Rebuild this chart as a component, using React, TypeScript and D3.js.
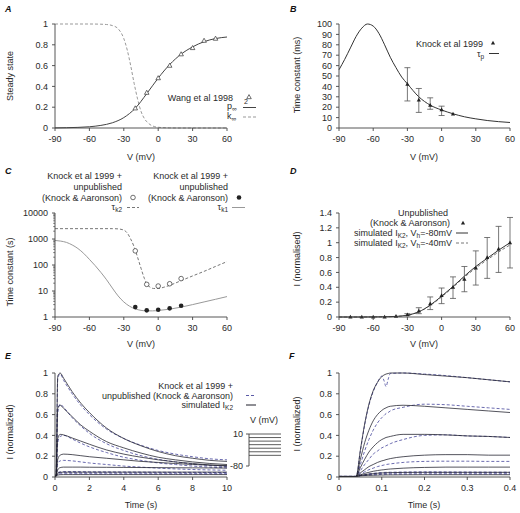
import React from "react";
import * as d3 from "d3";

const FONT = "'Liberation Sans', Arial, Helvetica, sans-serif";
const TXT = "#2a2a2a";
const AX = "#444";
const FS = 9;

// ---------- Panel A ----------
const vA = [-90, -80, -70, -60, -50, -40, -30, -20, -10, 0, 10, 20, 30, 40, 50, 60];
const pInfSq = [0.001, 0.003, 0.006, 0.012, 0.025, 0.05, 0.1, 0.19, 0.33, 0.48, 0.61, 0.71, 0.78, 0.83, 0.86, 0.875];
const vKinf = [-90, -60, -50, -45, -40, -35, -30, -27, -24, -21, -18, -15, -12, -9, -6, -3, 0, 5, 10, 20, 60];
const kInf = [1, 1, 0.998, 0.995, 0.985, 0.955, 0.86, 0.75, 0.6, 0.43, 0.28, 0.16, 0.09, 0.05, 0.025, 0.013, 0.007, 0.003, 0.001, 0, 0];
const vWang = [-20, -10, 0, 10, 20, 30, 40, 50];
const wang = [0.19, 0.34, 0.48, 0.6, 0.71, 0.77, 0.84, 0.86];
const vTicks = [-90, -60, -30, 0, 30, 60];
const ssTicks = [0, 0.2, 0.4, 0.6, 0.8, 1];

// ---------- Panel B ----------
const vB = [-90, -85, -80, -75, -70, -65, -60, -55, -50, -45, -40, -35, -30, -20, -10, 0, 10, 20, 30, 40, 50, 60];
const tauP = [56, 66, 77, 88, 96, 100, 98, 91, 80, 68, 58, 49, 42.5, 30, 22, 17.3, 13.7, 10.8, 8.8, 7.2, 6.1, 5.3];
const vKnockB = [-30, -20, -10, 0, 10];
const knockB = [42, 27, 22, 17.5, 13.5];
const knockBLo = [26, 15, 18, 12, 13.5];
const knockBHi = [58, 38, 29, 21, 13.5];
const tauTicks = [0, 10, 20, 30, 40, 50, 60, 70, 80, 90, 100];

// ---------- Panel C ----------
const vK2 = [-90, -40, -35, -30, -27, -24, -21, -18, -15, -12, -10, -7, -4, 0, 5, 10, 20, 30, 40, 50, 60];
const tauK2 = [2500, 2500, 2450, 2200, 1700, 1000, 500, 200, 75, 30, 19, 14, 12.5, 12.5, 14, 16.5, 25, 38, 57, 88, 135];
const vK1 = [-90, -85, -80, -75, -70, -65, -60, -55, -50, -45, -40, -35, -30, -25, -20, -15, -10, -5, 0, 10, 20, 30, 40, 50, 60];
const tauK1 = [880, 830, 740, 590, 430, 280, 165, 95, 52, 27, 13, 6.5, 3.8, 2.6, 2.05, 1.8, 1.72, 1.72, 1.78, 2.0, 2.4, 3.0, 3.8, 4.8, 6.1];
const vKnockC = [-20, -10, 0, 10, 20];
const knockK2 = [350, 18, 15.5, 19, 30];
const knockK1 = [2.4, 1.8, 1.9, 2.15, 2.7];
const logTicks = [1, 10, 100, 1000, 10000];

// ---------- Panel D ----------
const vD = [-90, -80, -70, -60, -50, -40, -30, -20, -10, 0, 10, 20, 30, 40, 50, 60];
const simH80 = [0, 0, 0, 0.001, 0.003, 0.008, 0.025, 0.07, 0.16, 0.28, 0.41, 0.55, 0.68, 0.79, 0.9, 1.0];
const simH40 = [0, 0, 0, 0.001, 0.003, 0.008, 0.024, 0.068, 0.155, 0.27, 0.4, 0.535, 0.66, 0.77, 0.875, 0.97];
const vUnpub = [-80, -70, -60, -50, -40, -30, -20, -10, 0, 10, 20, 30, 40, 50, 60];
const unpub = [0.002, 0.002, 0.001, 0.001, 0.01, 0.03, 0.08, 0.18, 0.29, 0.4, 0.51, 0.66, 0.8, 0.915, 1.0];
const unpubLo = [0.002, 0.002, 0.001, 0.001, 0.01, 0.02, 0.045, 0.1, 0.18, 0.25, 0.34, 0.43, 0.52, 0.6, 0.66];
const unpubHi = [0.002, 0.002, 0.001, 0.001, 0.01, 0.045, 0.125, 0.27, 0.39, 0.54, 0.68, 0.89, 1.07, 1.22, 1.34];
const iTicksD = [0, 0.2, 0.4, 0.6, 0.8, 1, 1.2, 1.4];

// ---------- Panel E ----------
const tE = [0, 0.06, 0.16, 0.3, 0.5, 1, 1.5, 2, 3, 4, 5, 6, 7, 8, 9, 10];
const eS1 = [0.01, 0.01, 0.97, 1.0, 0.95, 0.82, 0.71, 0.62, 0.47, 0.37, 0.3, 0.245, 0.205, 0.18, 0.16, 0.15];
const eS2 = [0.01, 0.01, 0.66, 0.69, 0.66, 0.58, 0.5, 0.44, 0.34, 0.28, 0.23, 0.19, 0.165, 0.145, 0.13, 0.12];
const eS3 = [0.01, 0.01, 0.37, 0.41, 0.405, 0.375, 0.345, 0.315, 0.26, 0.22, 0.19, 0.165, 0.145, 0.13, 0.115, 0.105];
const eS4 = [0.01, 0.01, 0.17, 0.21, 0.22, 0.215, 0.205, 0.195, 0.18, 0.165, 0.15, 0.14, 0.13, 0.12, 0.115, 0.11];
const eS5 = [0.01, 0.01, 0.07, 0.09, 0.095, 0.095, 0.095, 0.094, 0.093, 0.092, 0.091, 0.09, 0.089, 0.088, 0.087, 0.086];
const eS6 = [0.01, 0.01, 0.035, 0.045, 0.047, 0.047, 0.047, 0.047, 0.047, 0.047, 0.047, 0.047, 0.047, 0.047, 0.047, 0.047];
const eS7 = [0.01, 0.01, 0.018, 0.022, 0.023, 0.023, 0.023, 0.023, 0.023, 0.023, 0.023, 0.023, 0.023, 0.023, 0.023, 0.023];
const eD1 = [0.01, 0.01, 0.95, 0.99, 0.93, 0.8, 0.69, 0.6, 0.46, 0.37, 0.305, 0.255, 0.22, 0.195, 0.175, 0.165];
const eD2 = [0.01, 0.01, 0.62, 0.7, 0.67, 0.57, 0.49, 0.42, 0.32, 0.255, 0.205, 0.17, 0.145, 0.125, 0.11, 0.1];
const eD3 = [0.01, 0.01, 0.33, 0.39, 0.4, 0.365, 0.325, 0.29, 0.235, 0.19, 0.16, 0.135, 0.12, 0.105, 0.095, 0.088];
const eD4 = [0.01, 0.01, 0.13, 0.155, 0.16, 0.155, 0.145, 0.135, 0.12, 0.105, 0.095, 0.085, 0.078, 0.072, 0.068, 0.065];
const eD5 = [0.01, 0.01, 0.04, 0.05, 0.052, 0.052, 0.051, 0.05, 0.049, 0.048, 0.047, 0.046, 0.045, 0.045, 0.044, 0.044];
const eD6 = [0.01, 0.01, 0.03, 0.04, 0.041, 0.041, 0.04, 0.04, 0.04, 0.039, 0.039, 0.038, 0.038, 0.037, 0.037, 0.037];
const eD7 = [0.01, 0.01, 0.025, 0.03, 0.031, 0.031, 0.031, 0.031, 0.03, 0.03, 0.03, 0.03, 0.03, 0.03, 0.03, 0.03];
const timeTicksE = [0, 2, 4, 6, 8, 10];
const iTicks = [0, 0.2, 0.4, 0.6, 0.8, 1];
const protoSteps = [10, 0, -10, -20, -30, -40, -50];

// ---------- Panel F ----------
const tF = [0, 0.04, 0.05, 0.06, 0.07, 0.08, 0.09, 0.1, 0.105, 0.11, 0.115, 0.12, 0.15, 0.2, 0.25, 0.3, 0.35, 0.4];
const fS1 = [0.005, 0.005, 0.26, 0.51, 0.7, 0.83, 0.91, 0.965, 0.98, 0.99, 0.995, 1.0, 1.0, 0.985, 0.97, 0.955, 0.935, 0.915];
const fD1 = [0.005, 0.005, 0.25, 0.5, 0.69, 0.82, 0.91, 0.97, 0.93, 0.87, 0.94, 0.995, 1.0, 0.99, 0.975, 0.955, 0.935, 0.915];
const fS2 = [0.005, 0.005, 0.17, 0.33, 0.45, 0.54, 0.6, 0.64, 0.655, 0.665, 0.675, 0.68, 0.69, 0.68, 0.665, 0.65, 0.635, 0.62];
const fD2 = [0.005, 0.005, 0.12, 0.25, 0.36, 0.45, 0.52, 0.57, 0.59, 0.61, 0.62, 0.635, 0.67, 0.7, 0.695, 0.68, 0.665, 0.65];
const fS3 = [0.005, 0.005, 0.09, 0.17, 0.24, 0.29, 0.33, 0.36, 0.37, 0.38, 0.385, 0.39, 0.41, 0.41, 0.405, 0.395, 0.39, 0.38];
const fD3 = [0.005, 0.005, 0.06, 0.12, 0.17, 0.22, 0.25, 0.28, 0.29, 0.3, 0.31, 0.32, 0.36, 0.4, 0.405, 0.395, 0.39, 0.38];
const fS4 = [0.005, 0.005, 0.04, 0.07, 0.1, 0.12, 0.14, 0.155, 0.16, 0.167, 0.172, 0.177, 0.195, 0.21, 0.215, 0.215, 0.21, 0.21];
const fD4 = [0.005, 0.005, 0.03, 0.05, 0.07, 0.085, 0.1, 0.11, 0.115, 0.12, 0.123, 0.126, 0.14, 0.15, 0.152, 0.152, 0.15, 0.15];
const fS5 = [0.005, 0.005, 0.02, 0.035, 0.045, 0.055, 0.062, 0.068, 0.07, 0.073, 0.075, 0.077, 0.085, 0.092, 0.095, 0.095, 0.095, 0.095];
const fD5 = [0.005, 0.005, 0.015, 0.022, 0.03, 0.035, 0.04, 0.043, 0.044, 0.045, 0.046, 0.046, 0.048, 0.05, 0.049, 0.048, 0.047, 0.046];
const fS6 = [0.005, 0.005, 0.015, 0.022, 0.028, 0.032, 0.036, 0.039, 0.04, 0.041, 0.042, 0.042, 0.044, 0.045, 0.045, 0.045, 0.045, 0.045];
const fD6 = [0.005, 0.005, 0.013, 0.018, 0.023, 0.027, 0.03, 0.033, 0.034, 0.035, 0.036, 0.036, 0.038, 0.04, 0.04, 0.039, 0.039, 0.038];
const fS7 = [0.005, 0.005, 0.012, 0.014, 0.016, 0.017, 0.018, 0.019, 0.019, 0.02, 0.02, 0.02, 0.021, 0.022, 0.022, 0.022, 0.022, 0.022];
const fD7 = [0.005, 0.005, 0.013, 0.016, 0.019, 0.021, 0.023, 0.025, 0.026, 0.026, 0.027, 0.027, 0.028, 0.03, 0.03, 0.03, 0.03, 0.03];
const timeTicksF = [0, 0.1, 0.2, 0.3, 0.4];

const SOLID_E = "#1e1e2a";
const DASH_E = "#5a5aa6";

type Sc = (v: number) => number;

function Axes(props: {
  x: any; y: any; xTicks: number[]; yTicks: number[];
  xFmt?: (v: number) => string; yFmt?: (v: number) => string; logMinor?: boolean;
}) {
  const { x, y, xTicks, yTicks } = props;
  const xFmt = props.xFmt || ((v: number) => String(v));
  const yFmt = props.yFmt || ((v: number) => String(v));
  const [x0, x1] = x.range();
  const [y0, y1] = y.range();
  const minor: number[] = [];
  if (props.logMinor) {
    for (let d = 1; d < 10000; d *= 10) for (let m = 2; m <= 9; m++) minor.push(d * m);
  }
  return (
    <g fontFamily={FONT} fontSize={FS} fill={TXT}>
      <line x1={x0} x2={x1} y1={y0} y2={y0} stroke={AX} strokeWidth={0.9} />
      <line x1={x0} x2={x0} y1={y0} y2={y1} stroke={AX} strokeWidth={0.9} />
      {xTicks.map((t) => (
        <g key={"x" + t}>
          <line x1={x(t)} x2={x(t)} y1={y0} y2={y0 + 3} stroke={AX} strokeWidth={0.9} />
          <text x={x(t)} y={y0 + 14} textAnchor="middle">{xFmt(t)}</text>
        </g>
      ))}
      {yTicks.map((t) => (
        <g key={"y" + t}>
          <line x1={x0 - 3} x2={x0} y1={y(t)} y2={y(t)} stroke={AX} strokeWidth={0.9} />
          <text x={x0 - 7} y={y(t) + 3.2} textAnchor="end">{yFmt(t)}</text>
        </g>
      ))}
      {minor.map((t) => (
        <line key={"m" + t} x1={x0 - 1.8} x2={x0} y1={y(t)} y2={y(t)} stroke={AX} strokeWidth={0.7} />
      ))}
    </g>
  );
}

function YLabel({ x, y, children }: { x: number; y: number; children: any }) {
  return (
    <text transform={`translate(${x},${y}) rotate(-90)`} textAnchor="middle" dy="0.35em"
      fontFamily={FONT} fontSize={FS} fill={TXT}>{children}</text>
  );
}

function T(props: any) {
  const { children, ...rest } = props;
  return <text fontFamily={FONT} fontSize={FS} fill={TXT} {...rest}>{children}</text>;
}

function Letter({ x, y, c }: { x: number; y: number; c: string }) {
  return <text x={x} y={y} fontFamily={FONT} fontSize={9} fontWeight="bold" fontStyle="italic" fill="#111">{c}</text>;
}

function pathOf(xs: number[], ys: number[], x: Sc, y: Sc, curve: any = d3.curveMonotoneX) {
  const pts = xs.map((v, i) => [v, ys[i]] as [number, number]);
  return d3.line<[number, number]>().x((d) => x(d[0])).y((d) => y(d[1])).curve(curve)(pts) || "";
}

const triPath = (s: number) => `M0,${-s} L${s * 0.95},${s * 0.7} L${-s * 0.95},${s * 0.7} Z`;

const fmt1 = (v: number) => String(+v.toFixed(1));

export default function App() {
  const xA = d3.scaleLinear().domain([-90, 60]).range([55, 227]);
  const yA = d3.scaleLinear().domain([0, 1]).range([128, 24]);
  const xB = d3.scaleLinear().domain([-90, 60]).range([339, 510]);
  const yB = d3.scaleLinear().domain([0, 100]).range([128, 24]);
  const xC = d3.scaleLinear().domain([-90, 60]).range([55, 227]);
  const yC = d3.scaleLog().domain([1, 10000]).range([317, 213]);
  const xD = d3.scaleLinear().domain([-90, 60]).range([339, 510]);
  const yD = d3.scaleLinear().domain([0, 1.4]).range([317, 213]);
  const xE = d3.scaleLinear().domain([0, 10]).range([55, 227]);
  const yE = d3.scaleLinear().domain([0, 1]).range([477, 373]);
  const xF = d3.scaleLinear().domain([0, 0.4]).range([339, 510]);
  const yF = d3.scaleLinear().domain([0, 1]).range([477, 373]);
  const yP = d3.scaleLinear().domain([-80, 10]).range([466, 434]);

  const eSolid = [eS7, eS6, eS5, eS4, eS3, eS2, eS1];
  const eDash = [eD7, eD6, eD5, eD4, eD3, eD2, eD1];
  const fSolid = [fS7, fS6, fS5, fS4, fS3, fS2, fS1];
  const fDash = [fD7, fD6, fD5, fD4, fD3, fD2, fD1];

  return (
    <svg width={520} height={513} style={{ position: "absolute", left: 0, top: 0, background: "#fff" }}>
      <rect width={520} height={513} fill="#fff" />

      {/* ===== A ===== */}
      <Letter x={5} y={12} c="A" />
      <path d={pathOf(vKinf, kInf, xA, yA)} fill="none" stroke="#999" strokeWidth={1} strokeDasharray="3,2" />
      <path d={pathOf(vA, pInfSq, xA, yA)} fill="none" stroke="#444" strokeWidth={1} />
      {vWang.map((v, i) => (
        <path key={i} d={triPath(2.4)} transform={`translate(${xA(v)},${yA(wang[i])})`} fill="#fff" stroke="#333" strokeWidth={0.7} />
      ))}
      <Axes x={xA} y={yA} xTicks={vTicks} yTicks={ssTicks} />
      <YLabel x={9.5} y={76}>Steady state</YLabel>
      <T x={141} y={160} textAnchor="middle">V (mV)</T>
      <T x={233} y={100.5} textAnchor="end">Wang et al 1998</T>
      <path d={triPath(2.4)} transform="translate(249,97)" fill="#fff" stroke="#333" strokeWidth={0.7} />
      <T x={227} y={109}>p<tspan fontSize={6.5} dy={2}>∞</tspan></T>
      <T x={244} y={104} fontSize={7}>2</T>
      <line x1={243} x2={256} y1={107.5} y2={107.5} stroke="#444" strokeWidth={1} />
      <T x={227} y={119}>k<tspan fontSize={6.5} dy={2}>∞</tspan></T>
      <line x1={243} x2={256} y1={117} y2={117} stroke="#999" strokeWidth={1} strokeDasharray="3,2" />

      {/* ===== B ===== */}
      <Letter x={290} y={12} c="B" />
      <path d={pathOf(vB, tauP, xB, yB)} fill="none" stroke="#333" strokeWidth={1} />
      {vKnockB.map((v, i) => (
        <g key={i}>
          {knockBHi[i] > knockBLo[i] && (
            <g stroke="#555" strokeWidth={0.8}>
              <line x1={xB(v)} x2={xB(v)} y1={yB(knockBLo[i])} y2={yB(knockBHi[i])} />
              <line x1={xB(v) - 3} x2={xB(v) + 3} y1={yB(knockBLo[i])} y2={yB(knockBLo[i])} />
              <line x1={xB(v) - 3} x2={xB(v) + 3} y1={yB(knockBHi[i])} y2={yB(knockBHi[i])} />
            </g>
          )}
          <path d={triPath(2.2)} transform={`translate(${xB(v)},${yB(knockB[i])})`} fill="#222" />
        </g>
      ))}
      <Axes x={xB} y={yB} xTicks={vTicks} yTicks={tauTicks} />
      <YLabel x={297} y={75}>Time constant (ms)</YLabel>
      <T x={424} y={160} textAnchor="middle">V (mV)</T>
      <T x={483} y={47} textAnchor="end">Knock et al 1999</T>
      <path d={triPath(2.2)} transform="translate(493,43)" fill="#222" />
      <T x={477} y={57}>τ<tspan fontSize={6.5} dy={2}>p</tspan></T>
      <line x1={489} x2={499} y1={53.5} y2={53.5} stroke="#333" strokeWidth={1} />

      {/* ===== C ===== */}
      <Letter x={5} y={174} c="C" />
      <path d={pathOf(vK2, tauK2, xC, yC)} fill="none" stroke="#777" strokeWidth={1} strokeDasharray="3,2" />
      <path d={pathOf(vK1, tauK1, xC, yC)} fill="none" stroke="#999" strokeWidth={1} />
      {vKnockC.map((v, i) => (
        <g key={i}>
          <circle cx={xC(v)} cy={yC(knockK2[i])} r={2.3} fill="#fff" stroke="#333" strokeWidth={0.7} />
          <circle cx={xC(v)} cy={yC(knockK1[i])} r={2.3} fill="#222" />
        </g>
      ))}
      <Axes x={xC} y={yC} xTicks={vTicks} yTicks={logTicks} logMinor />
      <YLabel x={9.5} y={272}>Time constant (s)</YLabel>
      <T x={141} y={347} textAnchor="middle">V (mV)</T>
      <T x={122} y={179} textAnchor="end">Knock et al 1999 +</T>
      <T x={122} y={190} textAnchor="end">unpublished</T>
      <T x={122} y={201} textAnchor="end">(Knock &amp; Aaronson)</T>
      <circle cx={133} cy={197.5} r={2.3} fill="#fff" stroke="#333" strokeWidth={0.7} />
      <T x={122} y={210} textAnchor="end">τ<tspan fontSize={6.5} dy={2}>k2</tspan></T>
      <line x1={127} x2={139} y1={207.5} y2={207.5} stroke="#777" strokeWidth={1} strokeDasharray="3,2" />
      <T x={228} y={179} textAnchor="end">Knock et al 1999 +</T>
      <T x={228} y={190} textAnchor="end">unpublished</T>
      <T x={228} y={201} textAnchor="end">(Knock &amp; Aaronson)</T>
      <circle cx={239} cy={197.5} r={2.3} fill="#222" />
      <T x={228} y={210} textAnchor="end">τ<tspan fontSize={6.5} dy={2}>k1</tspan></T>
      <line x1={232} x2={245} y1={207.5} y2={207.5} stroke="#999" strokeWidth={1} />

      {/* ===== D ===== */}
      <Letter x={290} y={174} c="D" />
      <path d={pathOf(vD, simH40, xD, yD)} fill="none" stroke="#777" strokeWidth={1} strokeDasharray="3,2" />
      <path d={pathOf(vD, simH80, xD, yD)} fill="none" stroke="#333" strokeWidth={1} />
      {vUnpub.map((v, i) => (
        <g key={i}>
          {unpubHi[i] - unpubLo[i] > 0.015 && (
            <g stroke="#555" strokeWidth={0.8}>
              <line x1={xD(v)} x2={xD(v)} y1={yD(unpubLo[i])} y2={yD(unpubHi[i])} />
              <line x1={xD(v) - 3} x2={xD(v) + 3} y1={yD(unpubLo[i])} y2={yD(unpubLo[i])} />
              <line x1={xD(v) - 3} x2={xD(v) + 3} y1={yD(unpubHi[i])} y2={yD(unpubHi[i])} />
            </g>
          )}
          <path d={triPath(2.2)} transform={`translate(${xD(v)},${yD(unpub[i])})`} fill="#222" />
        </g>
      ))}
      <Axes x={xD} y={yD} xTicks={vTicks} yTicks={iTicksD} yFmt={fmt1} />
      <YLabel x={297} y={259}>I (normalised)</YLabel>
      <T x={424} y={347} textAnchor="middle">V (mV)</T>
      <T x={448} y={216} textAnchor="end">Unpublished</T>
      <T x={450} y={226} textAnchor="end">(Knock &amp; Aaronson)</T>
      <path d={triPath(2.2)} transform="translate(463,223)" fill="#222" />
      <T x={452} y={236} textAnchor="end">simulated I<tspan fontSize={6.5} dy={2}>K2</tspan><tspan dy={-2}>, V</tspan><tspan fontSize={6.5} dy={2}>h</tspan><tspan dy={-2}>=-80mV</tspan></T>
      <line x1={456} x2={468} y1={233} y2={233} stroke="#333" strokeWidth={1} />
      <T x={452} y={246} textAnchor="end">simulated I<tspan fontSize={6.5} dy={2}>K2</tspan><tspan dy={-2}>, V</tspan><tspan fontSize={6.5} dy={2}>h</tspan><tspan dy={-2}>=-40mV</tspan></T>
      <line x1={456} x2={468} y1={243} y2={243} stroke="#777" strokeWidth={1} strokeDasharray="3,2" />

      {/* ===== E ===== */}
      <Letter x={5} y={359} c="E" />
      {eDash.map((s, i) => (
        <path key={"ed" + i} d={pathOf(tE, s, xE, yE)} fill="none" stroke={DASH_E} strokeWidth={0.9} strokeDasharray="3,2" />
      ))}
      {eSolid.map((s, i) => (
        <path key={"es" + i} d={pathOf(tE, s, xE, yE)} fill="none" stroke={SOLID_E} strokeWidth={0.9} opacity={0.85} />
      ))}
      <Axes x={xE} y={yE} xTicks={timeTicksE} yTicks={iTicks} yFmt={fmt1} />
      <YLabel x={9.5} y={432}>I (normalized)</YLabel>
      <T x={141} y={508} textAnchor="middle">Time (s)</T>
      <T x={233} y={389} textAnchor="end">Knock et al 1999 +</T>
      <T x={233} y={399} textAnchor="end">unpublished (Knock &amp; Aaronson)</T>
      <line x1={246} x2={256} y1={395.5} y2={395.5} stroke={DASH_E} strokeWidth={1} strokeDasharray="3,2" />
      <T x={233} y={408} textAnchor="end">simulated I<tspan fontSize={6.5} dy={2}>K2</tspan></T>
      <line x1={246} x2={256} y1={405} y2={405} stroke={SOLID_E} strokeWidth={1} />

      {/* voltage protocol */}
      <T x={264} y={423} textAnchor="middle">V (mV)</T>
      <line x1={249} x2={249} y1={yP(10)} y2={yP(-80)} stroke={AX} strokeWidth={0.9} />
      <line x1={246} x2={249} y1={yP(10)} y2={yP(10)} stroke={AX} strokeWidth={0.9} />
      <line x1={246} x2={249} y1={yP(-80)} y2={yP(-80)} stroke={AX} strokeWidth={0.9} />
      <T x={243} y={yP(10) + 3.2} textAnchor="end">10</T>
      <T x={243} y={yP(-80) + 3.2} textAnchor="end">-80</T>
      {protoSteps.map((v) => (
        <line key={v} x1={249} x2={281} y1={yP(v)} y2={yP(v)} stroke="#333" strokeWidth={0.8} />
      ))}

      {/* ===== F ===== */}
      <Letter x={289} y={359} c="F" />
      {fDash.map((s, i) => (
        <path key={"fd" + i} d={pathOf(tF, s, xF, yF)} fill="none" stroke={DASH_E} strokeWidth={0.9} strokeDasharray="3,2" />
      ))}
      {fSolid.map((s, i) => (
        <path key={"fs" + i} d={pathOf(tF, s, xF, yF)} fill="none" stroke={SOLID_E} strokeWidth={0.9} opacity={0.85} />
      ))}
      <Axes x={xF} y={yF} xTicks={timeTicksF} yTicks={iTicks} yFmt={fmt1} />
      <YLabel x={297} y={424}>I (normalized)</YLabel>
      <T x={424} y={508} textAnchor="middle">Time (s)</T>
    </svg>
  );
}
